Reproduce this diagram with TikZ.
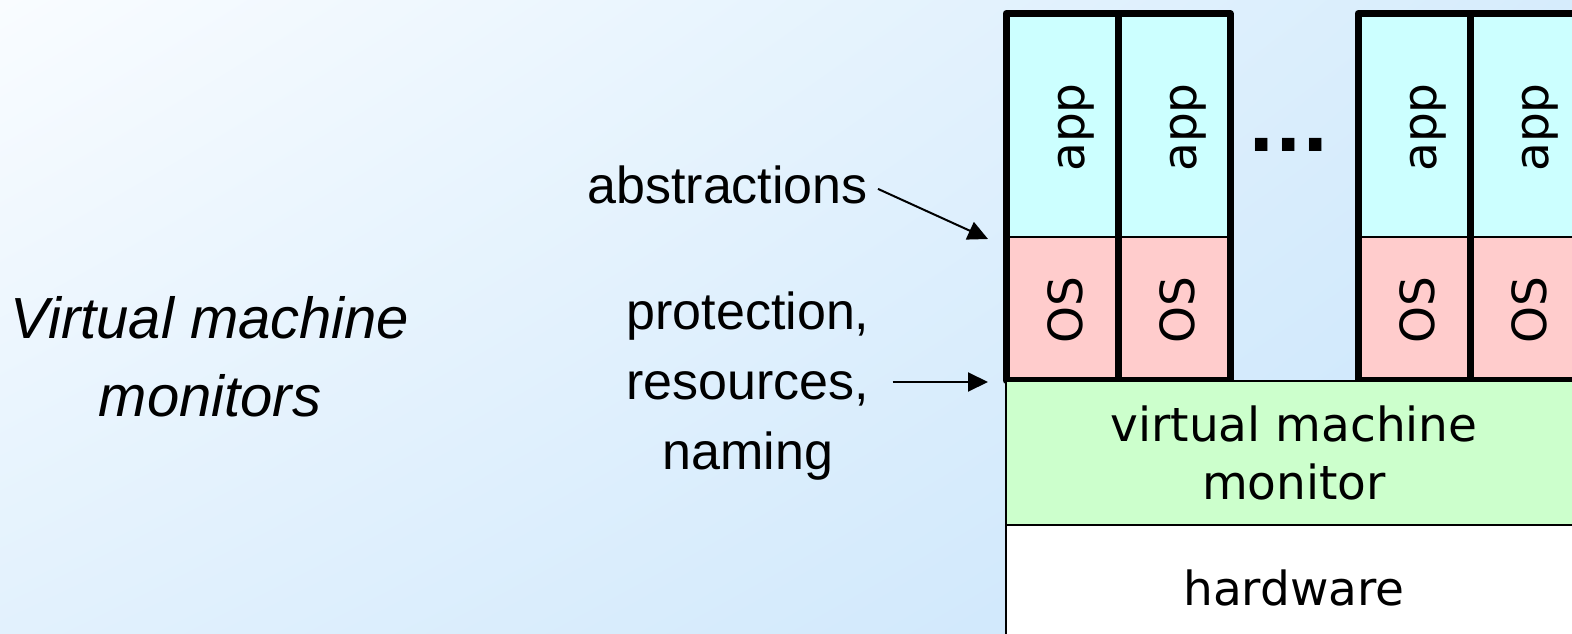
\documentclass[tikz,border=0pt]{standalone}
\usepackage{fontspec}
\setmainfont{Liberation Sans}
\newfontfamily\boxfont{DejaVu Sans}
\newfontfamily\dotfont{Liberation Sans Bold}
\usetikzlibrary{arrows.meta,calc,shadings}
\definecolor{appc}{RGB}{204,255,255}
\definecolor{osc}{RGB}{255,204,204}
\definecolor{vmmc}{RGB}{204,255,204}
\definecolor{bgA}{RGB}{249,252,255}
\definecolor{bgB}{RGB}{214,236,252}
\definecolor{bgC}{RGB}{226,241,253}
\definecolor{bgD}{RGB}{200,228,251}
\begin{document}
\begin{tikzpicture}[x=1pt,y=-1pt,
  thickline/.style={line width=7pt, line join=round},
  thinline/.style={line width=2.5pt},
  boxtext/.style={font=\boxfont\fontsize{47}{58}\selectfont, inner sep=0pt, align=center},
  vtext/.style={font=\boxfont\fontsize{47}{58}\selectfont, inner sep=0pt, rotate=90, anchor=base},
  sidetext/.style={font=\fontsize{52}{70}\selectfont, align=center, inner sep=0pt},
  arr/.style={line width=2pt, -{Triangle[length=20pt,width=19pt]}}]
\useasboundingbox (0,0) rectangle (1572,634);
\clip (0,0) rectangle (1572,634);
\shade[upper left=bgA, upper right=bgB, lower left=bgC, lower right=bgD] (0,0) rectangle (1572,634);

% VM groups
\foreach \L in {1006,1358}{
  \fill[appc] (\L,13.5) rectangle ({\L+224},237);
  \fill[osc] (\L,237) rectangle ({\L+224},380.5);
  \draw[thinline] (\L,237) -- ({\L+224},237);
  \draw[thickline] ({\L+112},13.5) -- ({\L+112},380.5);
  \draw[thickline] (\L,13.5) rectangle ({\L+224},380.5);
}

% VMM and hardware
\fill[vmmc] (1006,381) rectangle (1590,525);
\draw[thinline] (1590,381) -- (1006,381) -- (1006,525) -- (1590,525);
\fill[white] (1006,525) rectangle (1590,650);
\draw[thinline] (1006,525) -- (1006,650);
\draw[thinline] (1006,525) -- (1590,525);

% texts in stacks
\node[vtext] (app1) at (1084,127.5) {app};
\node[vtext] (app2) at (1196,127.5) {app};
\node[vtext] (app3) at (1436,127.5) {app};
\node[vtext] (app4) at (1548,127.5) {app};
\node[vtext] (os1) at (1082,310.5) {OS};
\node[vtext] (os2) at (1194,310.5) {OS};
\node[vtext] (os3) at (1434,310.5) {OS};
\node[vtext] (os4) at (1546,310.5) {OS};
\node[font=\dotfont\fontsize{88}{88}\selectfont, inner sep=0pt, anchor=base] (dots) at (1289,151) {.\kern2.5pt.\kern2.5pt.};
\node[boxtext] (vmm) at (1294,453) {virtual machine\\monitor};
\node[boxtext, anchor=base] (hw) at (1294,605) {hardware};

% side labels
\node[sidetext, anchor=base east] (abs) at (868,203) {abstractions};
\node[sidetext] (prot) at (748,386) {protection,\\resources,\\naming};
\node[sidetext, font=\itshape\fontsize{58}{78}\selectfont] (title) at (210,357) {Virtual machine\\monitors};

\coordinate (absTip) at (988,239);
\coordinate (protTip) at (988,382);
\draw[arr] ($(abs.east)+(10,4.5)$) -- (absTip);
\draw[arr] ($(prot.east |- protTip)+(23,0)$) -- (protTip);
\end{tikzpicture}
\end{document}
